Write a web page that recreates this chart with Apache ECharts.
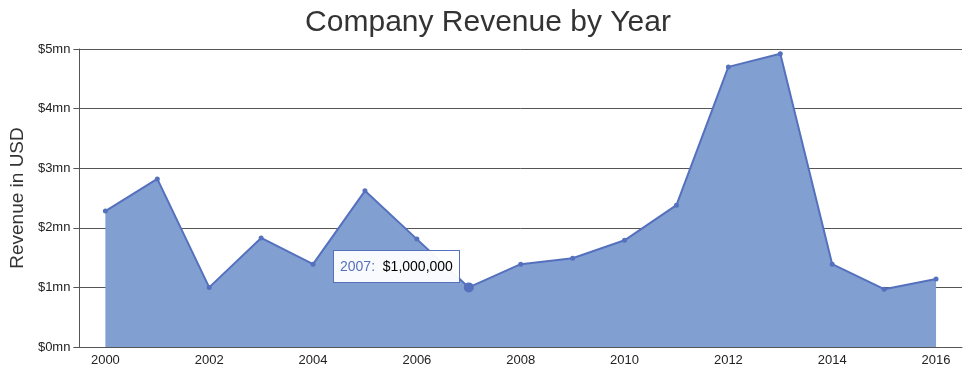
<!DOCTYPE html>
<html><head><meta charset="utf-8">
<script src="https://cdn.jsdelivr.net/npm/echarts@6/dist/echarts.min.js"></script>
<style>html,body{margin:0;padding:0;background:#fff}#c{width:976px;height:385px}</style>
</head><body><div id="c"></div>
<script>
const years = ['2000','2001','2002','2003','2004','2005','2006','2007','2008','2009','2010','2011','2012','2013','2014','2015','2016'];
const revenue = [2280000,2820000,1000000,1830000,1390000,2620000,1810000,1000000,1390000,1490000,1790000,2380000,4700000,4920000,1390000,970000,1140000];
const yTicks = [0,1000000,2000000,3000000,4000000,5000000];
const highlightIndex = 7;

const chart = echarts.init(document.getElementById('c'));
const font = 'Liberation Sans, Arial, sans-serif';
chart.setOption({
  animation: false,
  title: {text: 'Company Revenue by Year', left: 'center', top: 3,
    textStyle: {fontFamily: font, fontSize: 30, fontWeight: 'normal', color: '#333'}},
  grid: {left: 77, right: 14, top: 49, bottom: 38},
  tooltip: {
    trigger: 'item', alwaysShowContent: true, showContent: true,
    position: function(){ return [333, 250]; },
    backgroundColor: 'rgba(255,255,255,0.95)', borderColor: '#5571be', borderWidth: 1,
    padding: [5,6], extraCssText: 'border-radius:0;box-shadow:none;',
    textStyle: {fontFamily: font, fontSize: 14, color: '#000'},
    formatter: function(p){
      return '<span style="color:#5571be">' + p.name + ':</span>&nbsp; $' + p.value.toLocaleString('en-US');
    }
  },
  xAxis: {
    type: 'category', data: years, boundaryGap: true,
    axisLine: {lineStyle: {color: '#555', width: 1}},
    axisTick: {alignWithLabel: true, interval: 1, length: 5, lineStyle: {color: '#555'}},
    axisLabel: {interval: 1, color: '#222', fontFamily: font, fontSize: 13, margin: 7},
    splitLine: {show: false}
  },
  yAxis: {
    type: 'value', min: 0, max: 5000000, interval: 1000000,
    name: 'Revenue in USD', nameLocation: 'middle', nameGap: 45,
    nameTextStyle: {fontFamily: font, fontSize: 19, color: '#333'},
    axisLine: {show: true, lineStyle: {color: '#555'}},
    axisTick: {show: true, length: 6, lineStyle: {color: '#555'}},
    axisLabel: {color: '#222', fontFamily: font, fontSize: 13, margin: 9,
      formatter: v => '$' + (v/1000000) + 'mn'},
    splitLine: {show: true, lineStyle: {color: '#555', width: 1}}
  },
  series: [{
    type: 'line', name: 'Revenue',
    data: revenue.map((v,i) => i === highlightIndex ? {value: v, symbolSize: 10} : v),
    symbol: 'circle', symbolSize: 5, showAllSymbol: true,
    lineStyle: {color: '#5571be', width: 2},
    itemStyle: {color: '#5571be'},
    areaStyle: {color: '#829fd2', opacity: 1},
    emphasis: {disabled: true}
  }]
});
setTimeout(()=>chart.dispatchAction({type:'showTip', seriesIndex:0, dataIndex: highlightIndex}), 50);
</script></body></html>
